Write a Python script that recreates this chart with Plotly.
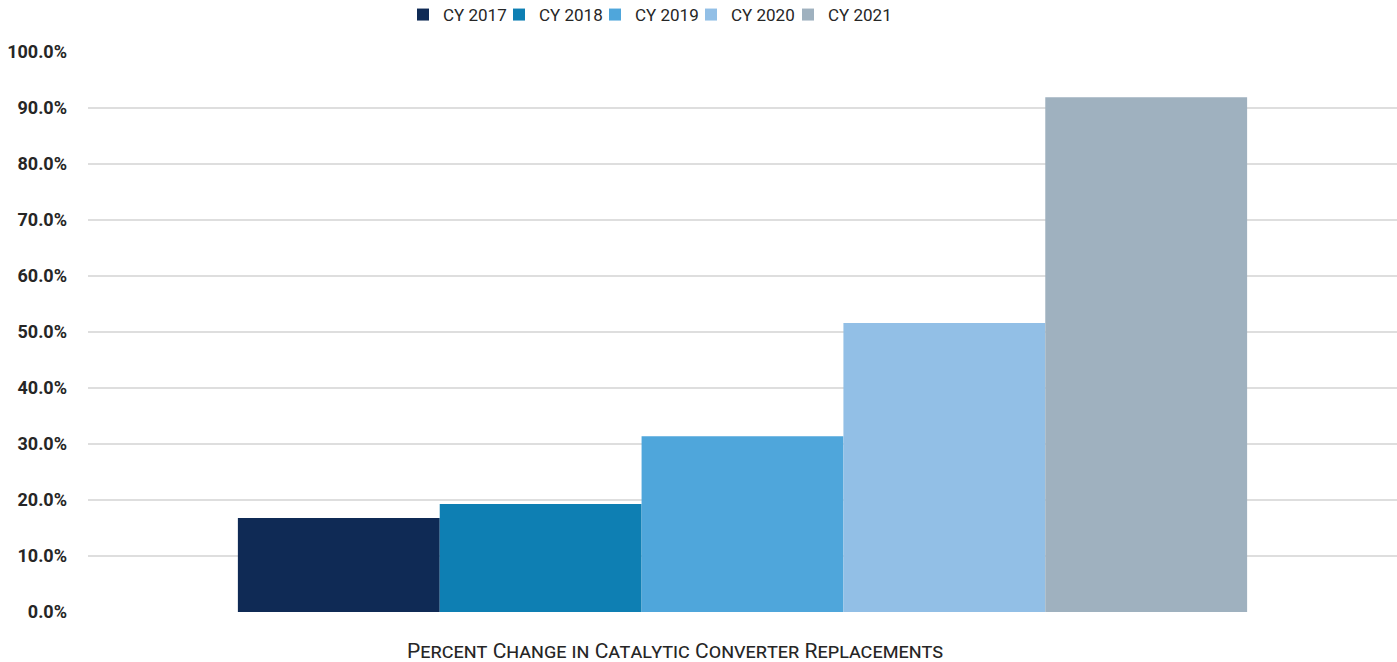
import plotly.graph_objects as go

# Single category, one bar per calendar year
category = ["Percent Change in Catalytic Converter Replacements"]
years = ["CY 2017", "CY 2018", "CY 2019", "CY 2020", "CY 2021"]
pct_change = [16.8, 19.3, 31.4, 51.6, 91.9]
colors = ["#0f2a55", "#0e7fb3", "#4fa6db", "#92bfe6", "#9fb1bf"]

y_ticks = [0, 10, 20, 30, 40, 50, 60, 70, 80, 90, 100]
y_tick_text = [f"{v:.1f}%" for v in y_ticks]

W, H = 1397, 662

# Left edge (px) of each legend entry along the top row
legend_left_px = [403, 499, 595, 691, 788]

fig = go.Figure()
legend_layouts = {}
for i, (name, val, col) in enumerate(zip(years, pct_change, colors)):
    key = "legend" if i == 0 else f"legend{i + 1}"
    fig.add_trace(go.Bar(
        name=name,
        x=[0],
        y=[val],
        marker=dict(color=col, line=dict(width=0)),
        legend=key,
        hovertemplate=f"{name}: %{{y:.1f}}%<extra></extra>",
    ))
    legend_layouts[key] = dict(
        orientation="h",
        xref="container",
        yref="container",
        x=legend_left_px[i] / W,
        xanchor="left",
        y=1 - 15 / H,
        yanchor="middle",
        font=dict(family="Roboto", size=17, color="#262626"),
        itemwidth=30,
        bgcolor="rgba(0,0,0,0)",
    )

fig.update_layout(
    width=W,
    height=H,
    margin=dict(l=88, r=0, t=52, b=50),
    paper_bgcolor="white",
    plot_bgcolor="white",
    barmode="group",
    bargap=0.229,
    bargroupgap=0,
    font=dict(family="Roboto", size=17, color="#262626"),
    showlegend=True,
    xaxis=dict(
        range=[-0.5, 0.5],
        showticklabels=False,
        showgrid=False,
        zeroline=False,
        showline=False,
        ticks="",
    ),
    yaxis=dict(
        range=[0, 100],
        tickvals=y_ticks,
        ticktext=y_tick_text,
        tickfont=dict(family="Roboto", size=18, color="#262626", weight="bold"),
        showgrid=True,
        gridcolor="#dedede",
        gridwidth=2,
        zeroline=False,
        showline=False,
        ticks="",
        ticklabelstandoff=20,
    ),
    annotations=[
        dict(
            text=category[0],
            xref="paper",
            yref="paper",
            x=(674.5 - 88) / 1309,
            y=-0.07,
            xanchor="center",
            yanchor="middle",
            showarrow=False,
            font=dict(family="Roboto", size=21, color="#262626", variant="small-caps"),
        )
    ],
    **legend_layouts,
)

fig.write_html("out.html")
